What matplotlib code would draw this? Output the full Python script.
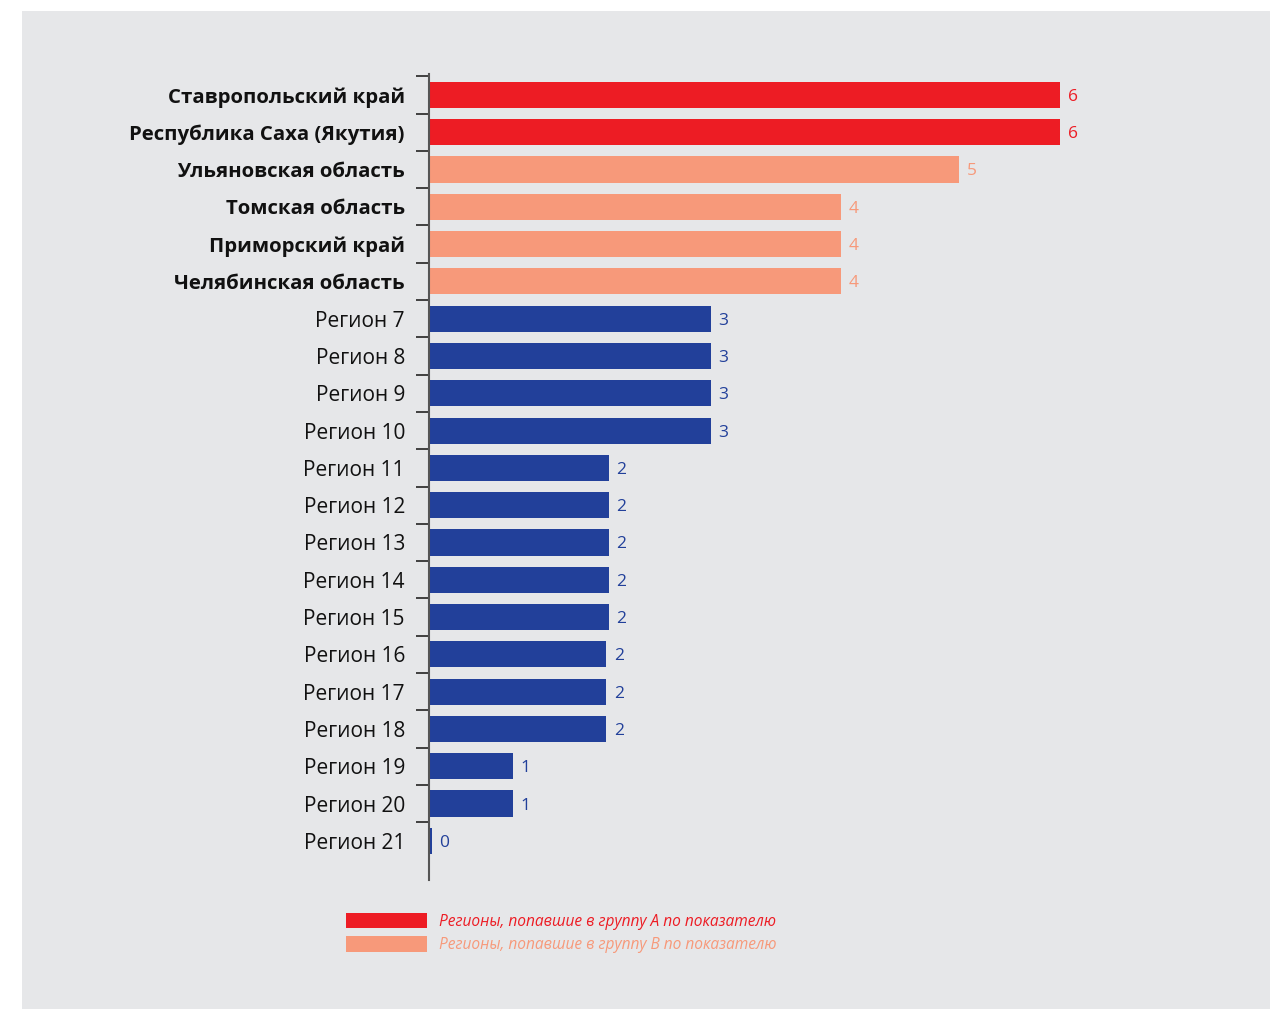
import matplotlib
matplotlib.use('Agg')
import matplotlib.pyplot as plt
from matplotlib.patches import Rectangle, Patch

plt.rcParams['font.family'] = ['Open Sans', 'DejaVu Sans']

# data
regions = ['Ставропольский край', 'Республика Саха (Якутия)', 'Ульяновская область',
           'Томская область', 'Приморский край', 'Челябинская область',
           'Регион 7', 'Регион 8', 'Регион 9', 'Регион 10', 'Регион 11', 'Регион 12',
           'Регион 13', 'Регион 14', 'Регион 15', 'Регион 16', 'Регион 17', 'Регион 18',
           'Регион 19', 'Регион 20', 'Регион 21']
bar_len = [6.0, 6.0, 5.04, 3.92, 3.92, 3.92,
           2.68, 2.68, 2.68, 2.68, 1.71, 1.71,
           1.71, 1.71, 1.71, 1.69, 1.69, 1.69,
           0.80, 0.80, 0.035]
shown = [6, 6, 5, 4, 4, 4, 3, 3, 3, 3, 2, 2, 2, 2, 2, 2, 2, 2, 1, 1, 0]
group = ['A', 'A', 'B', 'B', 'B', 'B'] + ['C'] * 15
legend_labels = ['Регионы, попавшие в группу А по показателю',
                 'Регионы, попавшие в группу В по показателю']

colors = {'A': '#ED1C24', 'B': '#F7997A', 'C': '#22409A'}
bg = '#E6E7E9'

W, H = 1278, 1010
fig = plt.figure(figsize=(W / 100, H / 100), dpi=100)
fig.patches.append(Rectangle((22 / W, 1 - 1009 / H), (1270 - 22) / W, (1009 - 11) / H,
                             transform=fig.transFigure, facecolor=bg, edgecolor='none', zorder=-1))

ax_left, ax_right = 428.5, 1160
ax_top, ax_bot = 74, 880
ax = fig.add_axes([ax_left / W, 1 - ax_bot / H, (ax_right - ax_left) / W, (ax_bot - ax_top) / H])
ax.set_facecolor('none')

ypos = list(range(len(regions)))
bar_colors = [colors[g] for g in group]
ax.barh(ypos, bar_len, height=0.70, color=bar_colors, left=0)

for y, v, s, c in zip(ypos, bar_len, shown, bar_colors):
    ax.text(v + 0.07, y, str(s), va='center_baseline', ha='left', fontsize=12.5, color=c)

ax.set_xlim(0, (ax_right - ax_left) * 6.0 / 631.7)
ax.set_ylim(21.05, -0.56)

ax.set_yticks(ypos)
ax.set_yticklabels(regions)
for i, lab in enumerate(ax.get_yticklabels()):
    lab.set_color('#111111')
    if group[i] != 'C':
        lab.set_fontweight('bold')
        lab.set_fontsize(14.7)
    else:
        lab.set_fontsize(15)
ax.tick_params(axis='y', which='major', length=0, pad=17)
ax.set_yticks([i + 0.5 for i in range(-1, 20)], minor=True)
ax.tick_params(axis='y', which='minor', length=9.5, width=1.3, color='#333333', direction='out')

ax.set_xticks([])
for side in ['top', 'right', 'bottom']:
    ax.spines[side].set_visible(False)
ax.spines['left'].set_color('#555555')
ax.spines['left'].set_linewidth(1.5)

handles = [Patch(facecolor=colors['A']), Patch(facecolor=colors['B'])]
lgd = fig.legend(handles, legend_labels, loc='upper left', bbox_to_anchor=(346 / W, 1 - 913 / H),
                 frameon=False, fontsize=11.2, handlelength=5.2, handleheight=1.12,
                 handletextpad=0.75, labelspacing=0.42, borderpad=0, borderaxespad=0)
for t, c in zip(lgd.get_texts(), [colors['A'], colors['B']]):
    t.set_color(c)
    t.set_fontstyle('italic')

fig.savefig('out.png', dpi=100, facecolor='white')
